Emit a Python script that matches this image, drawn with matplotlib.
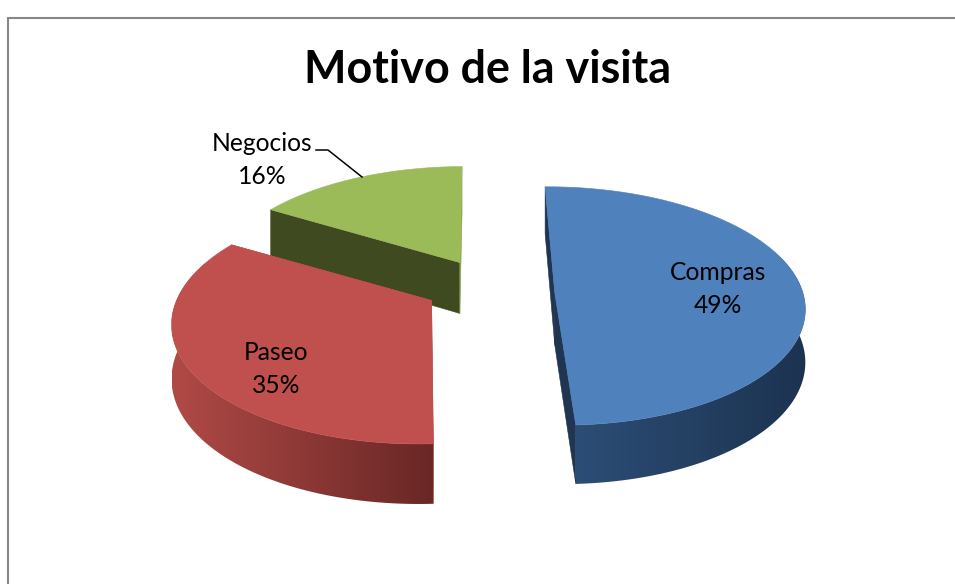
import numpy as np
import matplotlib
matplotlib.use("Agg")
import matplotlib.pyplot as plt
from matplotlib.patches import Polygon

categories = ["Compras", "Paseo", "Negocios"]
values = [49.49, 34.9, 15.61]
title = "Motivo de la visita"

# ---- styling / geometry (pixels of a 955x584 canvas) ----
W, H = 955, 584
top_colors = ["#4f81bd", "#c0504d", "#9bbb59"]
cut_colors = ["#1f3552", "#c0504d", "#3f4a20"]
cut_end_colors = ["#1f3552", "#c0504d", "#8aa650"]
side_left = ["#2c4d75", "#b04a47", "#3f4a20"]
side_right = ["#1c3350", "#692725", "#3f4a20"]
offsets = [(0.26, 0.0), (-0.24, -0.137), (-0.12, 0.205)]
apex_shift = [(0.0, 0.0), (0.01, 0.055), (-0.012, 0.045)]
label_xy = [(718, 289), (276, 369), (262, 160)]
CX, CY, A, B, K, DEPTH = 490.0, 291.6, 249.0, 117.5, 0.113, 52.3
SHEAR, TILT = 0.03, -0.03
START = -2.5


def project(x, y, z=0.0):
    x, y = np.asarray(x, float), np.asarray(y, float)
    d = 1 + K * y
    return CX + A * (x + SHEAR * y) / d, CY - B * (y + TILT * x) / d + DEPTH * z / d


def rgb(c):
    return np.array(matplotlib.colors.to_rgb(c))


fig = plt.figure(figsize=(W / 100, H / 100), dpi=100, facecolor="white")
ax = fig.add_axes([0, 0, 1, 1])
ax.set_xlim(0, W)
ax.set_ylim(H, 0)
ax.set_autoscale_on(False)
ax.axis("off")

# chart frame (its right and bottom edges are cropped in the source)
ax.plot([8, 8, W + 5], [H + 5, 18, 18], color="#868686", lw=1.5, solid_joinstyle="miter")

spans = np.array(values) / sum(values) * 360
starts = START + np.concatenate([[0], np.cumsum(spans)[:-1]])

z = 2
for idx in [2, 1, 0]:
    ox, oy = offsets[idx]
    apx, apy = ox + apex_shift[idx][0], oy + apex_shift[idx][1]
    th = np.radians(np.linspace(starts[idx], starts[idx] + spans[idx], 300))
    xs, ys = ox + np.sin(th), oy + np.cos(th)
    tx, ty = project(xs, ys)
    # cut faces
    for k, col in ((0, cut_colors[idx]), (-1, cut_end_colors[idx])):
        sx, sy = project([apx, xs[k], xs[k], apx], [apy, ys[k], ys[k], apy], np.array([0, 0, 1, 1]))
        ax.add_patch(Polygon(np.c_[sx, sy], closed=True, fc=col, ec=col, lw=0.4, zorder=z))
        z += 1
    # outer wall with a left-to-right shading
    front = np.cos(th) <= 0.35
    if front.any() and idx != 2:
        bx, by = project(xs[front], ys[front], np.ones(front.sum()))
        fx, fy = tx[front], ty[front]
        wall = Polygon(np.c_[np.r_[fx, bx[::-1]], np.r_[fy, by[::-1]]], closed=True,
                       transform=ax.transData, fc="none", ec="none")
        ax.add_patch(wall)
        ramp = np.linspace(0, 1, 256)[None, :, None]
        grad = rgb(side_left[idx])[None, None, :] * (1 - ramp) + rgb(side_right[idx])[None, None, :] * ramp
        im = ax.imshow(grad, extent=[fx.min(), fx.max(), by.max() + 2, fy.min() - 2], aspect="auto",
                       interpolation="bilinear", zorder=z)
        im.set_clip_path(wall)
        z += 1
    # top face
    ax0, ay0 = project([apx], [apy])
    ax.add_patch(Polygon(np.c_[np.r_[ax0, tx], np.r_[ay0, ty]], closed=True,
                         fc=top_colors[idx], ec=top_colors[idx], lw=0.4, zorder=z))
    z += 1

ax.set_xlim(0, W)
ax.set_ylim(H, 0)

# leader line for the small slice
ax.plot([316, 328, 362], [150, 150, 177], color="black", lw=1.1, zorder=z)

font = "Lato"
ax.text(487.5, 70, title, ha="center", va="center", fontsize=32.3, fontweight="bold",
        family=font, color="black", zorder=z + 1)
for (lx, ly), cat, val in zip(label_xy, categories, values):
    ax.text(lx, ly, f"{cat}\n{round(val)}%", ha="center", va="center", fontsize=17.7,
            family=font, color="black", linespacing=1.55, zorder=z + 1)

fig.savefig("out.png", dpi=100)
